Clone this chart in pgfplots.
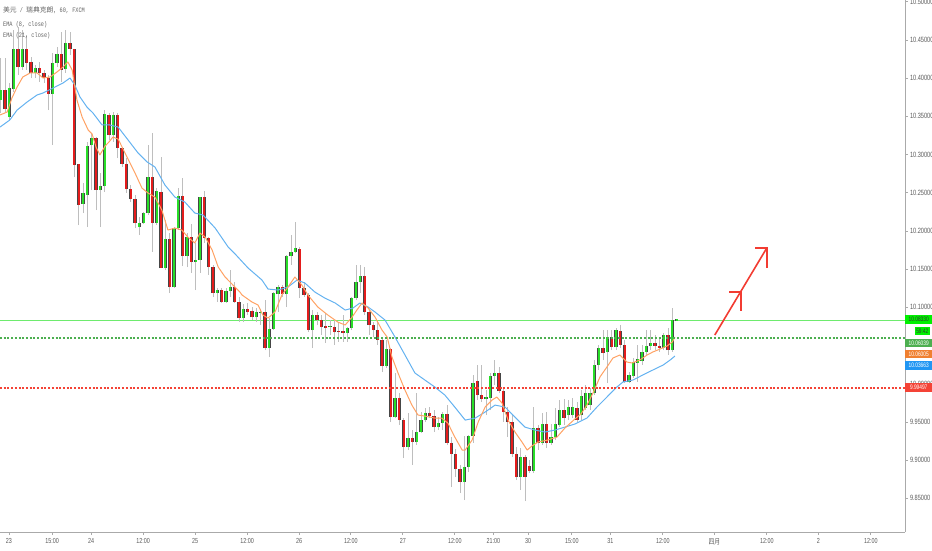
\documentclass[border=0pt]{standalone}
\usepackage{fontspec}
\usepackage{pgfplots}
\usepackage{pgfplotstable}
\pgfplotsset{compat=1.18}
\setmainfont{Liberation Sans}
\newfontfamily\tvfont[FakeStretch=0.74]{Liberation Sans}
\newfontfamily\tvmono[FakeStretch=0.77]{Liberation Mono}
\newfontfamily\cjk{Noto Sans CJK SC}
\newfontfamily\cjknarrow[FakeStretch=0.8]{Noto Sans CJK SC}
\definecolor{cgreen}{RGB}{40,222,40}
\definecolor{cred}{RGB}{228,28,28}
\definecolor{cedge}{RGB}{70,70,70}
\definecolor{wick}{RGB}{190,190,190}
\definecolor{emaorange}{RGB}{255,162,100}
\definecolor{emablue}{RGB}{100,178,240}
\definecolor{axisgray}{RGB}{170,170,170}
\definecolor{tickgray}{RGB}{90,90,90}
\definecolor{leggray}{RGB}{100,100,100}
\definecolor{linegreen}{RGB}{110,235,110}
\definecolor{dotgreen}{RGB}{76,175,80}
\definecolor{dotred}{RGB}{244,67,54}
\definecolor{boxgreen}{RGB}{0,240,0}
\definecolor{boxorange}{RGB}{240,128,48}
\definecolor{boxblue}{RGB}{33,150,243}
\definecolor{arrowred}{RGB}{242,60,50}

\pgfplotstableread{
n L H lo hi
0 10.3543 10.4263 10.3713 10.3844
2 10.3451 10.3936 10.3490 10.3870
3 10.3818 10.4629 10.3857 10.4381
5 10.4106 10.4629 10.4145 10.4381
8 10.4001 10.4172 10.4067 10.4132
12 10.3125 10.4329 10.3792 10.4198
13 10.4145 10.4407 10.4198 10.4316
15 10.4067 10.4629 10.4119 10.4460
19 10.2234 10.2627 10.2352 10.2496
20 10.2050 10.3164 10.2470 10.3111
21 10.2535 10.3281 10.3125 10.3215
23 10.2050 10.2758 10.2535 10.2587
24 10.2509 10.3582 10.2587 10.3530
26 10.3164 10.3556 10.3255 10.3517
32 10.1946 10.2181 10.2050 10.2103
33 10.2090 10.2247 10.2103 10.2234
34 10.2208 10.3125 10.2234 10.2705
36 10.2077 10.2561 10.2103 10.2522
38 10.1488 10.2142 10.1514 10.1893
40 10.1252 10.2050 10.1265 10.2037
41 10.2011 10.2561 10.2037 10.2456
43 10.1527 10.1972 10.1671 10.1919
45 10.1226 10.1842 10.1593 10.1619
46 10.1449 10.2443 10.1619 10.2443
50 10.1069 10.1252 10.1187 10.1226
52 10.1056 10.1252 10.1069 10.1213
53 10.1134 10.1488 10.1213 10.1265
56 10.0807 10.1043 10.0859 10.0977
59 10.0807 10.0990 10.0872 10.0938
60 10.0768 10.0977 10.0925 10.0938
62 10.0349 10.0859 10.0467 10.0715
63 10.0702 10.1200 10.0715 10.1187
64 10.0938 10.1292 10.1174 10.1265
66 10.1003 10.1685 10.1174 10.1671
67 10.1554 10.1946 10.1671 10.1724
68 10.1711 10.2116 10.1724 10.1776
72 10.0467 10.0964 10.0702 10.0899
76 10.0637 10.0833 10.0741 10.0754
80 10.0546 10.0741 10.0663 10.0728
81 10.0702 10.1134 10.0728 10.1121
82 10.1095 10.1554 10.1121 10.1331
83 10.1187 10.1554 10.1331 10.1409
89 10.0205 10.0572 10.0231 10.0454
91 9.9550 10.0140 9.9563 9.9812
94 9.9132 9.9616 9.9172 9.9289
96 9.9198 9.9878 9.9237 9.9367
97 9.9354 9.9629 9.9367 9.9524
98 9.9498 9.9681 9.9524 9.9616
101 9.9393 9.9563 9.9432 9.9485
102 9.9393 9.9629 9.9485 9.9603
107 9.8477 9.9315 9.8713 9.8909
108 9.8844 9.9328 9.8909 9.9315
109 9.9224 10.0114 9.9315 10.0009
112 9.9590 9.9917 9.9799 9.9825
113 9.9655 10.0140 9.9812 10.0101
114 9.9983 10.0310 10.0101 10.0140
120 9.8608 9.9158 9.8778 9.9040
123 9.8831 9.9694 9.8857 9.9419
125 9.9198 9.9616 9.9224 9.9472
127 9.9198 9.9472 9.9224 9.9302
128 9.9263 9.9681 9.9302 9.9472
129 9.9432 9.9786 9.9459 9.9655
131 9.9524 9.9786 9.9590 9.9694
132 9.9550 9.9812 9.9590 9.9694
134 9.9524 9.9917 9.9590 9.9839
135 9.9655 9.9983 9.9681 9.9878
136 9.9655 9.9943 9.9720 9.9878
137 9.9852 10.0310 9.9878 10.0245
138 10.0179 10.0507 10.0245 10.0467
140 10.0009 10.0702 10.0415 10.0611
142 10.0441 10.0728 10.0480 10.0702
145 10.0009 10.0153 10.0022 10.0114
146 10.0074 10.0336 10.0101 10.0284
147 10.0022 10.0507 10.0271 10.0323
148 10.0245 10.0507 10.0297 10.0415
149 10.0376 10.0702 10.0415 10.0494
150 10.0441 10.0702 10.0494 10.0533
153 10.0441 10.0663 10.0467 10.0637
155 10.0415 10.0990 10.0441 10.0833
156 10.0820 10.0846 10.0820 10.0846
}\upbars

\pgfplotstableread{
n L H lo hi
1 10.3556 10.4263 10.3595 10.3844
4 10.4041 10.4668 10.4145 10.4381
6 10.4106 10.4564 10.4198 10.4381
7 10.4001 10.4276 10.4067 10.4211
9 10.3949 10.4211 10.4067 10.4132
10 10.3936 10.4106 10.4001 10.4067
11 10.3582 10.4041 10.3792 10.4001
14 10.3949 10.4603 10.4106 10.4316
16 10.4303 10.4603 10.4381 10.4460
17 10.2705 10.4381 10.2863 10.4381
18 10.2077 10.2876 10.2339 10.2876
22 10.2273 10.3228 10.2535 10.3215
25 10.3190 10.3543 10.3255 10.3517
27 10.2954 10.3543 10.3085 10.3517
28 10.2836 10.3098 10.2876 10.3085
29 10.2496 10.2954 10.2548 10.2876
30 10.2378 10.2601 10.2417 10.2548
31 10.2037 10.2470 10.2103 10.2417
35 10.1724 10.3281 10.2103 10.2705
37 10.1514 10.2967 10.1514 10.2509
39 10.1187 10.1972 10.1265 10.1893
42 10.1540 10.2692 10.1671 10.2456
44 10.1449 10.2090 10.1593 10.1919
47 10.1842 10.2522 10.1906 10.2443
48 10.1423 10.1919 10.1527 10.1906
49 10.1134 10.1554 10.1187 10.1527
51 10.1056 10.1252 10.1069 10.1226
54 10.1056 10.1331 10.1069 10.1265
55 10.0807 10.1134 10.0859 10.1069
57 10.0899 10.1056 10.0938 10.0977
58 10.0833 10.1003 10.0872 10.0951
61 10.0441 10.1095 10.0467 10.0938
65 10.1134 10.1292 10.1174 10.1265
69 10.1121 10.1789 10.1252 10.1763
70 10.1134 10.1331 10.1161 10.1252
71 10.0676 10.1187 10.0702 10.1161
73 10.0768 10.0938 10.0833 10.0899
74 10.0637 10.0899 10.0741 10.0833
75 10.0533 10.0925 10.0728 10.0754
77 10.0507 10.0833 10.0676 10.0741
78 10.0546 10.0807 10.0676 10.0689
79 10.0546 10.0899 10.0663 10.0689
84 10.0899 10.1527 10.0938 10.1409
85 10.0637 10.0964 10.0768 10.0938
86 10.0611 10.0807 10.0702 10.0768
87 10.0507 10.0807 10.0572 10.0702
88 10.0153 10.0598 10.0231 10.0572
90 9.9498 10.0467 9.9563 10.0454
92 9.9459 9.9878 9.9524 9.9812
93 9.9027 9.9550 9.9172 9.9524
95 9.8936 9.9393 9.9237 9.9289
99 9.9550 9.9694 9.9576 9.9616
100 9.9367 9.9655 9.9432 9.9576
103 9.9198 9.9720 9.9224 9.9603
104 9.8647 9.9302 9.9080 9.9224
105 9.8778 9.9145 9.8883 9.9080
106 9.8569 9.8936 9.8713 9.8883
110 9.9786 10.0245 9.9852 10.0035
111 9.9760 10.0245 9.9799 9.9852
115 9.9878 10.0218 9.9904 10.0140
116 9.9498 9.9943 9.9629 9.9904
117 9.9302 9.9694 9.9498 9.9629
118 9.9040 9.9590 9.9080 9.9498
119 9.8739 9.9172 9.8778 9.9080
121 9.8464 9.9067 9.8778 9.9040
122 9.8831 9.9001 9.8857 9.8923
124 9.9132 9.9459 9.9224 9.9419
126 9.9158 9.9629 9.9224 9.9472
130 9.9459 9.9799 9.9550 9.9655
133 9.9498 9.9760 9.9524 9.9681
139 10.0310 10.0702 10.0402 10.0467
141 10.0441 10.0702 10.0480 10.0611
143 10.0467 10.0768 10.0507 10.0689
144 10.0009 10.0572 10.0022 10.0507
151 10.0441 10.0637 10.0494 10.0533
152 10.0415 10.0598 10.0467 10.0494
154 10.0376 10.0728 10.0441 10.0637
}\downbars

\pgfplotstableread{
n ema
-0.15 10.3359
2.1 10.3451
3.8 10.3582
6.1 10.3687
8.4 10.3779
9.8 10.3805
12.1 10.3870
14.4 10.3936
16.0 10.4001
17.1 10.3910
18.3 10.3753
19.9 10.3622
21.3 10.3543
23.4 10.3386
25.2 10.3386
27.1 10.3359
29.4 10.3190
31.7 10.3020
33.8 10.2902
35.6 10.2836
37.9 10.2601
40.2 10.2443
42.5 10.2378
44.8 10.2234
46.7 10.2208
49.5 10.2037
52.5 10.1789
54.1 10.1698
57.1 10.1514
60.3 10.1357
61.7 10.1239
64.0 10.1226
66.3 10.1265
68.4 10.1357
70.2 10.1318
72.5 10.1200
74.8 10.1121
77.2 10.1056
79.5 10.0964
81.3 10.0990
82.9 10.1056
84.8 10.1003
86.4 10.0938
88.7 10.0833
91.0 10.0611
93.3 10.0376
95.6 10.0140
97.9 10.0048
100.2 9.9956
102.5 9.9852
104.8 9.9694
107.2 9.9524
109.5 9.9550
111.8 9.9629
114.1 9.9720
116.4 9.9694
118.7 9.9563
121.0 9.9432
123.3 9.9393
125.6 9.9367
127.9 9.9393
130.2 9.9432
132.5 9.9472
135.3 9.9550
137.6 9.9694
139.9 9.9825
142.2 9.9956
143.6 10.0022
145.9 10.0048
148.2 10.0114
150.5 10.0179
152.9 10.0245
154.5 10.0310
155.6 10.0362
}\emaslow

\pgfplotstableread{
n ema
-0.15 10.3517
1.5 10.3556
2.6 10.3740
3.8 10.3884
5.1 10.4014
6.8 10.4067
8.4 10.4067
9.8 10.4001
11.4 10.4014
13.0 10.4080
14.4 10.4145
15.5 10.4211
16.5 10.4106
17.6 10.3713
18.8 10.3490
20.2 10.3320
21.1 10.3268
22.0 10.3098
22.9 10.2994
24.1 10.3111
25.0 10.3164
25.9 10.3228
27.1 10.3202
28.7 10.3020
31.0 10.2758
32.6 10.2561
34.0 10.2496
35.6 10.2443
37.2 10.2273
38.6 10.2011
40.2 10.2037
41.8 10.2011
43.2 10.1919
44.8 10.1842
46.0 10.1972
47.2 10.1919
48.8 10.1750
50.2 10.1527
51.8 10.1396
53.6 10.1292
55.2 10.1200
55.7 10.1161
58.0 10.1069
59.4 10.1030
60.5 10.0899
61.7 10.0859
63.3 10.0938
64.9 10.1161
66.3 10.1265
67.9 10.1396
69.5 10.1292
70.9 10.1161
73.2 10.1003
75.5 10.0899
77.8 10.0807
79.5 10.0768
81.1 10.0872
82.2 10.0964
83.4 10.1056
84.8 10.0990
86.4 10.0872
88.0 10.0702
89.2 10.0611
90.3 10.0349
91.7 10.0140
93.3 9.9917
94.9 9.9720
96.3 9.9590
97.9 9.9576
100.2 9.9550
101.8 9.9550
103.2 9.9485
104.8 9.9302
106.5 9.9132
107.2 9.9132
108.8 9.9263
110.2 9.9498
111.8 9.9694
113.4 9.9786
114.5 9.9825
115.7 9.9747
117.1 9.9524
118.7 9.9367
120.3 9.9237
121.5 9.9132
122.6 9.9184
124.0 9.9237
126.3 9.9263
128.4 9.9302
130.2 9.9419
132.5 9.9537
133.9 9.9603
135.3 9.9720
136.7 9.9878
138.3 10.0088
139.9 10.0218
141.3 10.0336
142.9 10.0376
144.5 10.0284
145.7 10.0271
147.5 10.0310
149.2 10.0376
150.5 10.0415
152.2 10.0454
153.8 10.0494
155.0 10.0546
155.6 10.0611
}\emafast

\begin{document}
\begin{tikzpicture}
\begin{axis}[
  at={(0pt,0pt)}, anchor=south west,
  scale only axis, width=905pt, height=532pt,
  xmin=-0.155, xmax=208.7, ymin=9.8059, ymax=10.5022,
  clip=false,
  axis x line*=bottom, axis y line*=right,
  axis line style={-, draw=axisgray, line width=0.9pt},
  tick align=outside, major tick length=3pt,
  tick style={draw=axisgray, line width=0.6pt},
  minor tick num=0,
  xtick={1.9,11.9,20.9,32.9,44.9,56.9,68.9,80.8,92.8,104.8,113.7,121.7,131.8,140.7,152.8,164.7,176.8,188.7,200.8},
  xticklabels={23,15:00,24,12:00,25,12:00,26,12:00,27,12:00,21:00,30,15:00,31,12:00,{\cjknarrow 四月},12:00,2,12:00},
  ytick={9.85,9.90,9.95,10.00,10.10,10.15,10.20,10.25,10.30,10.35,10.40,10.45,10.50},
  scaled y ticks=false,
  /pgf/number format/assume math mode=true,
  yticklabel style={/pgf/number format/.cd, fixed, fixed zerofill, precision=5, /tikz/.cd, font=\tvfont\fontsize{7.6}{8}\selectfont, text=tickgray, xshift=-1.5pt},
  xticklabel style={font=\tvfont\fontsize{7.3}{8}\selectfont, text=tickgray},
  candle/.style={draw=none, mark=none, forget plot, error bars/y dir=plus, error bars/y explicit, error bars/error mark=none},
]
% horizontal level (behind)
\addplot[linegreen, line width=0.9pt] coordinates {(-0.155,10.0833) (208.7,10.0833)};

% wicks
\addplot[candle, error bars/error bar style={draw=wick, line width=0.9pt}]
  table[x=n, y=L, y error expr=\thisrow{H}-\thisrow{L}] {\upbars};
\addplot[candle, error bars/error bar style={draw=wick, line width=0.9pt}]
  table[x=n, y=L, y error expr=\thisrow{H}-\thisrow{L}] {\downbars};
% body edges
\addplot[candle, error bars/error bar style={draw=cedge, line width=3.3pt}]
  table[x=n, y=lo, y error expr=\thisrow{hi}-\thisrow{lo}] {\upbars};
\addplot[candle, error bars/error bar style={draw=cedge, line width=3.3pt}]
  table[x=n, y=lo, y error expr=\thisrow{hi}-\thisrow{lo}] {\downbars};
% body fills
\addplot[candle, error bars/error bar style={draw=cgreen, line width=2.1pt}]
  table[x=n, y expr=\thisrow{lo}+0.0004, y error expr={max(\thisrow{hi}-\thisrow{lo}-0.0008,0.0002)}] {\upbars};
\addplot[candle, error bars/error bar style={draw=cred, line width=2.1pt}]
  table[x=n, y expr=\thisrow{lo}+0.0004, y error expr={max(\thisrow{hi}-\thisrow{lo}-0.0008,0.0002)}] {\downbars};

% EMAs
\addplot[emablue, line width=1pt, line join=round] table[x=n, y=ema] {\emaslow};
\addplot[emaorange, line width=1pt, line join=round] table[x=n, y=ema] {\emafast};

% dotted levels
\addplot[dotgreen, line width=2pt, dash pattern=on 2pt off 1.7pt] coordinates {(-0.155,10.06039) (208.7,10.06039)};
\addplot[dotred, line width=2pt, dash pattern=on 2pt off 1.7pt] coordinates {(-0.155,9.99497) (208.7,9.99497)};

% arrow drawing
\addplot[arrowred, line width=1.6pt] coordinates {(164.8,10.0637) (176.8,10.1776)};
\addplot[arrowred, line width=1.6pt] coordinates {(168.1,10.1200) (170.8,10.1200) (170.8,10.0951)};
\addplot[arrowred, line width=1.6pt] coordinates {(174.1,10.1776) (176.8,10.1776) (176.8,10.1514)};

% price boxes
\tikzset{pbox/.style={anchor=west, inner xsep=1pt, inner ysep=0pt, minimum height=8.5pt, minimum width=27pt, font=\tvfont\fontsize{6.5}{7}\selectfont}}
\node[pbox, fill=boxgreen, text=black!80] at (axis cs:208.7,10.0838) {10.08330};
\node[anchor=east, inner xsep=1pt, inner ysep=0pt, minimum height=7.5pt, minimum width=15pt, font=\tvfont\fontsize{6.5}{7}\selectfont, fill=boxgreen, text=black!80] at (axis cs:208.7,10.0689) [xshift=25pt] {59:42};
\node[pbox, fill=dotgreen, text=white] at (axis cs:208.7,10.0533) {10.06039};
\node[pbox, fill=boxorange, text=white] at (axis cs:208.7,10.0389) {10.06005};
\node[pbox, fill=boxblue, text=white] at (axis cs:208.7,10.0238) {10.03663};
\node[pbox, fill=dotred, text=white] at (axis cs:208.7,9.9950) {9.99497};

% legend texts
\node[anchor=west, inner sep=0pt, text=leggray, font=\tvmono\fontsize{6.8}{7}\selectfont] at (axis description cs:0,1) [xshift=3pt, yshift=-10pt] {{\cjk\fontsize{6.8}{7}\selectfont 美元} / {\cjk\fontsize{6.8}{7}\selectfont 瑞典克朗}, 60, FXCM};
\node[anchor=west, inner sep=0pt, text=leggray, font=\tvmono\fontsize{6.8}{7}\selectfont] at (axis description cs:0,1) [xshift=3pt, yshift=-25pt] {EMA (8, close)};
\node[anchor=west, inner sep=0pt, text=leggray, font=\tvmono\fontsize{6.8}{7}\selectfont] at (axis description cs:0,1) [xshift=3pt, yshift=-36pt] {EMA (21, close)};
\end{axis}
\pgfresetboundingbox
\useasboundingbox (0pt,-18pt) rectangle (932pt,532pt);
\end{tikzpicture}
\end{document}
